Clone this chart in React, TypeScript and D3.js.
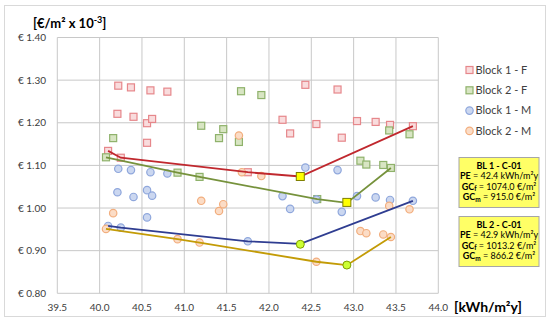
import React from 'react';
import * as d3 from 'd3';

// tick values
const xTicks = [39.5, 40.0, 40.5, 41.0, 41.5, 42.0, 42.5, 43.0, 43.5, 44.0];
const yTicks = [0.8, 0.9, 1.0, 1.1, 1.2, 1.3, 1.4];

// Block 1 - F
const b1fX = [40.22, 40.37, 40.6, 40.8, 40.21, 40.4, 40.56, 40.62, 40.56, 40.1, 40.25, 42.43, 42.16, 42.25, 42.56, 41.75, 42.81, 43.04, 43.26, 43.43, 42.86, 43.7];
const b1fY = [1.287, 1.283, 1.276, 1.273, 1.221, 1.214, 1.199, 1.209, 1.153, 1.134, 1.118, 1.289, 1.207, 1.175, 1.197, 1.084, 1.278, 1.204, 1.202, 1.195, 1.165, 1.192];
// Block 2 - F
const b2fX = [40.16, 40.075, 40.92, 41.18, 41.2, 41.46, 41.41, 41.67, 41.91, 41.645, 43.42, 43.66, 43.08, 43.15, 43.35, 43.44, 42.57];
const b2fY = [1.164, 1.119, 1.083, 1.073, 1.193, 1.185, 1.164, 1.274, 1.265, 1.155, 1.182, 1.173, 1.111, 1.102, 1.101, 1.094, 1.021];
// Block 1 - M
const b1mX = [40.22, 40.37, 40.6, 40.8, 40.21, 40.4, 40.56, 40.62, 40.56, 40.1, 40.25, 42.16, 42.25, 41.75, 42.56, 42.43, 43.04, 43.26, 43.43, 42.86, 43.7, 42.81];
const b1mY = [1.092, 1.089, 1.084, 1.081, 1.037, 1.026, 1.042, 1.029, 0.978, 0.958, 0.954, 1.028, 0.998, 0.922, 1.02, 1.095, 1.028, 1.025, 1.019, 0.991, 1.017, 1.089];
// Block 2 - M
const b2mX = [40.16, 40.075, 40.92, 41.18, 41.2, 41.46, 41.41, 41.645, 41.68, 41.91, 42.56, 43.08, 43.15, 43.35, 43.44, 43.42, 43.66];
const b2mY = [0.988, 0.951, 0.927, 0.919, 1.017, 1.009, 0.993, 1.17, 1.084, 1.075, 0.874, 0.946, 0.941, 0.938, 0.932, 1.005, 0.997];

// pareto fronts
const f1fX = [40.1, 40.25, 41.75, 42.37, 43.7];
const f1fY = [1.134, 1.118, 1.084, 1.074, 1.192];
const f2fX = [40.075, 40.92, 41.18, 42.57, 42.92, 43.44];
const f2fY = [1.119, 1.083, 1.073, 1.021, 1.012, 1.094];
const f1mX = [40.1, 40.25, 41.75, 42.37, 43.7];
const f1mY = [0.958, 0.954, 0.922, 0.916, 1.017];
const f2mX = [40.075, 40.92, 41.18, 42.56, 42.92, 43.44];
const f2mY = [0.951, 0.927, 0.919, 0.874, 0.866, 0.932];

// optimum designs
const optSqX = [42.37, 42.92];
const optSqY = [1.074, 1.0132];
const optCiX = [42.37, 42.92];
const optCiY = [0.915, 0.8662];

const legendNames = ['Block 1 - F', 'Block 2 - F', 'Block 1 - M', 'Block 2 - M'];

const boxTitles = ['BL 1 - C-01', 'BL 2 - C-01'];
const boxPE = ['42.4', '42.9'];
const boxGCf = ['1074.0', '1013.2'];
const boxGCm = ['915.0', '866.2'];

const zip = (xs: number[], ys: number[]) => xs.map((x, i) => [x, ys[i]] as [number, number]);

export default function App() {
  const W = 550, H = 324;
  const x = d3.scaleLinear().domain([39.5, 44.0]).range([57.3, 438.3]);
  const y = d3.scaleLinear().domain([0.8, 1.4]).range([293.3, 37.5]);
  const font = 'Lato, "Open Sans", sans-serif';

  const line = d3.line<[number, number]>()
    .x(d => x(d[0]))
    .y(d => y(d[1]));

  const styles = [
    { stroke: '#E6878B', fill: '#F9DCDD', shape: 'sq' },
    { stroke: '#8FB26B', fill: '#D8E5C3', shape: 'sq' },
    { stroke: '#8FA7DC', fill: '#CBD7F0', shape: 'ci' },
    { stroke: '#F2AE7E', fill: '#FBDCC6', shape: 'ci' },
  ];
  const series = [zip(b1fX, b1fY), zip(b2fX, b2fY), zip(b1mX, b1mY), zip(b2mX, b2mY)];
  const fronts = [
    { pts: zip(f1fX, f1fY), color: '#C0282E' },
    { pts: zip(f2fX, f2fY), color: '#76923C' },
    { pts: zip(f1mX, f1mY), color: '#2F3D91' },
    { pts: zip(f2mX, f2mY), color: '#C39B06' },
  ];

  const marker = (s: typeof styles[0], cx: number, cy: number, key: string) =>
    s.shape === 'sq' ? (
      <rect key={key} x={cx - 3.5} y={cy - 3.5} width={7} height={7} fill={s.fill} stroke={s.stroke} strokeWidth={1.2} />
    ) : (
      <circle key={key} cx={cx} cy={cy} r={3.7} fill={s.fill} stroke={s.stroke} strokeWidth={1.2} />
    );

  return (
    <svg width={W} height={H} style={{ position: 'absolute', left: 0, top: 0, background: '#fff' }}>
      <rect x={4.5} y={5.5} width={541} height={311} fill="#fff" stroke="#D9D9D9" strokeWidth={1} />

      {/* grid */}
      {xTicks.map(t => (
        <line key={'gx' + t} x1={x(t)} x2={x(t)} y1={y(1.4)} y2={y(0.8)} stroke="#C8C8C8" strokeWidth={1} />
      ))}
      {yTicks.map(t => (
        <line key={'gy' + t} x1={x(39.5)} x2={x(44)} y1={y(t)} y2={y(t)} stroke="#C8C8C8" strokeWidth={1} />
      ))}

      {/* tick labels */}
      {yTicks.map(t => (
        <text key={'ly' + t} x={46} y={y(t)} dy="0.35em" textAnchor="end" fontFamily={font} fontSize={10} fill="#404040">
          {'€ ' + t.toFixed(2)}
        </text>
      ))}
      {xTicks.map(t => (
        <text key={'lx' + t} x={x(t)} y={307} dy="0.35em" textAnchor="middle" fontFamily={font} fontSize={10} fill="#404040">
          {t.toFixed(1)}
        </text>
      ))}

      {/* axis titles */}
      <text x={33} y={28} fontFamily={font} fontSize={13} fontWeight="bold" fill="#000">
        [€/m² x 10<tspan dy={-5} fontSize={9}>-3</tspan><tspan dy={5}>]</tspan>
      </text>
      <text x={454} y={312} fontFamily={font} fontSize={14} fontWeight="bold" fill="#000">
        [kWh/m²y]
      </text>

      {/* scatter */}
      {series.map((pts, si) => pts.map((p, i) => marker(styles[si], x(p[0]), y(p[1]), `s${si}-${i}`)))}

      {/* fronts */}
      {fronts.map((f, i) => (
        <path key={'f' + i} d={line(f.pts) || ''} fill="none" stroke={f.color} strokeWidth={1.8} />
      ))}

      {/* optimum markers */}
      {zip(optSqX, optSqY).map((p, i) => (
        <rect key={'os' + i} x={x(p[0]) - 4} y={y(p[1]) - 4} width={8} height={8} fill="#FFFF00" stroke="#7F7F00" strokeWidth={1} />
      ))}
      {zip(optCiX, optCiY).map((p, i) => (
        <circle key={'oc' + i} cx={x(p[0])} cy={y(p[1])} r={4} fill="#CCFF33" stroke="#7F9F00" strokeWidth={1} />
      ))}

      {/* legend */}
      {legendNames.map((n, i) => {
        const ly = 70 + i * 20.3;
        return (
          <g key={'lg' + i}>
            {marker(styles[i], 469.5, ly, 'lm' + i)}
            <text x={475.5} y={ly} dy="0.35em" fontFamily={font} fontSize={11} fill="#404040">{n}</text>
          </g>
        );
      })}

      {/* info boxes */}
      {boxTitles.map((t, i) => {
        const by = i === 0 ? 157.5 : 216.5;
        const cx = 499;
        return (
          <g key={'bx' + i} fontFamily={font} fontSize={9} fill="#000">
            <rect x={459} y={by} width={80} height={50} fill="#FFFF66" stroke="#A6A6A6" strokeWidth={1} />
            <text x={cx} y={by + 4} dy="0.8em" textAnchor="middle" fontWeight="bold">{t}</text>
            <text x={cx} y={by + 14.5} dy="0.8em" textAnchor="middle">
              <tspan fontWeight="bold">PE</tspan> = {boxPE[i]} kWh/m²y
            </text>
            <text x={cx} y={by + 25} dy="0.8em" textAnchor="middle">
              <tspan fontWeight="bold">GC</tspan><tspan fontWeight="bold" fontSize={6.5} dy={1.5}>f</tspan><tspan dy={-1.5}> = {boxGCf[i]} €/m²</tspan>
            </text>
            <text x={cx} y={by + 35.5} dy="0.8em" textAnchor="middle">
              <tspan fontWeight="bold">GC</tspan><tspan fontWeight="bold" fontSize={6.5} dy={1.5}>m</tspan><tspan dy={-1.5}> = {boxGCm[i]} €/m²</tspan>
            </text>
          </g>
        );
      })}
    </svg>
  );
}
